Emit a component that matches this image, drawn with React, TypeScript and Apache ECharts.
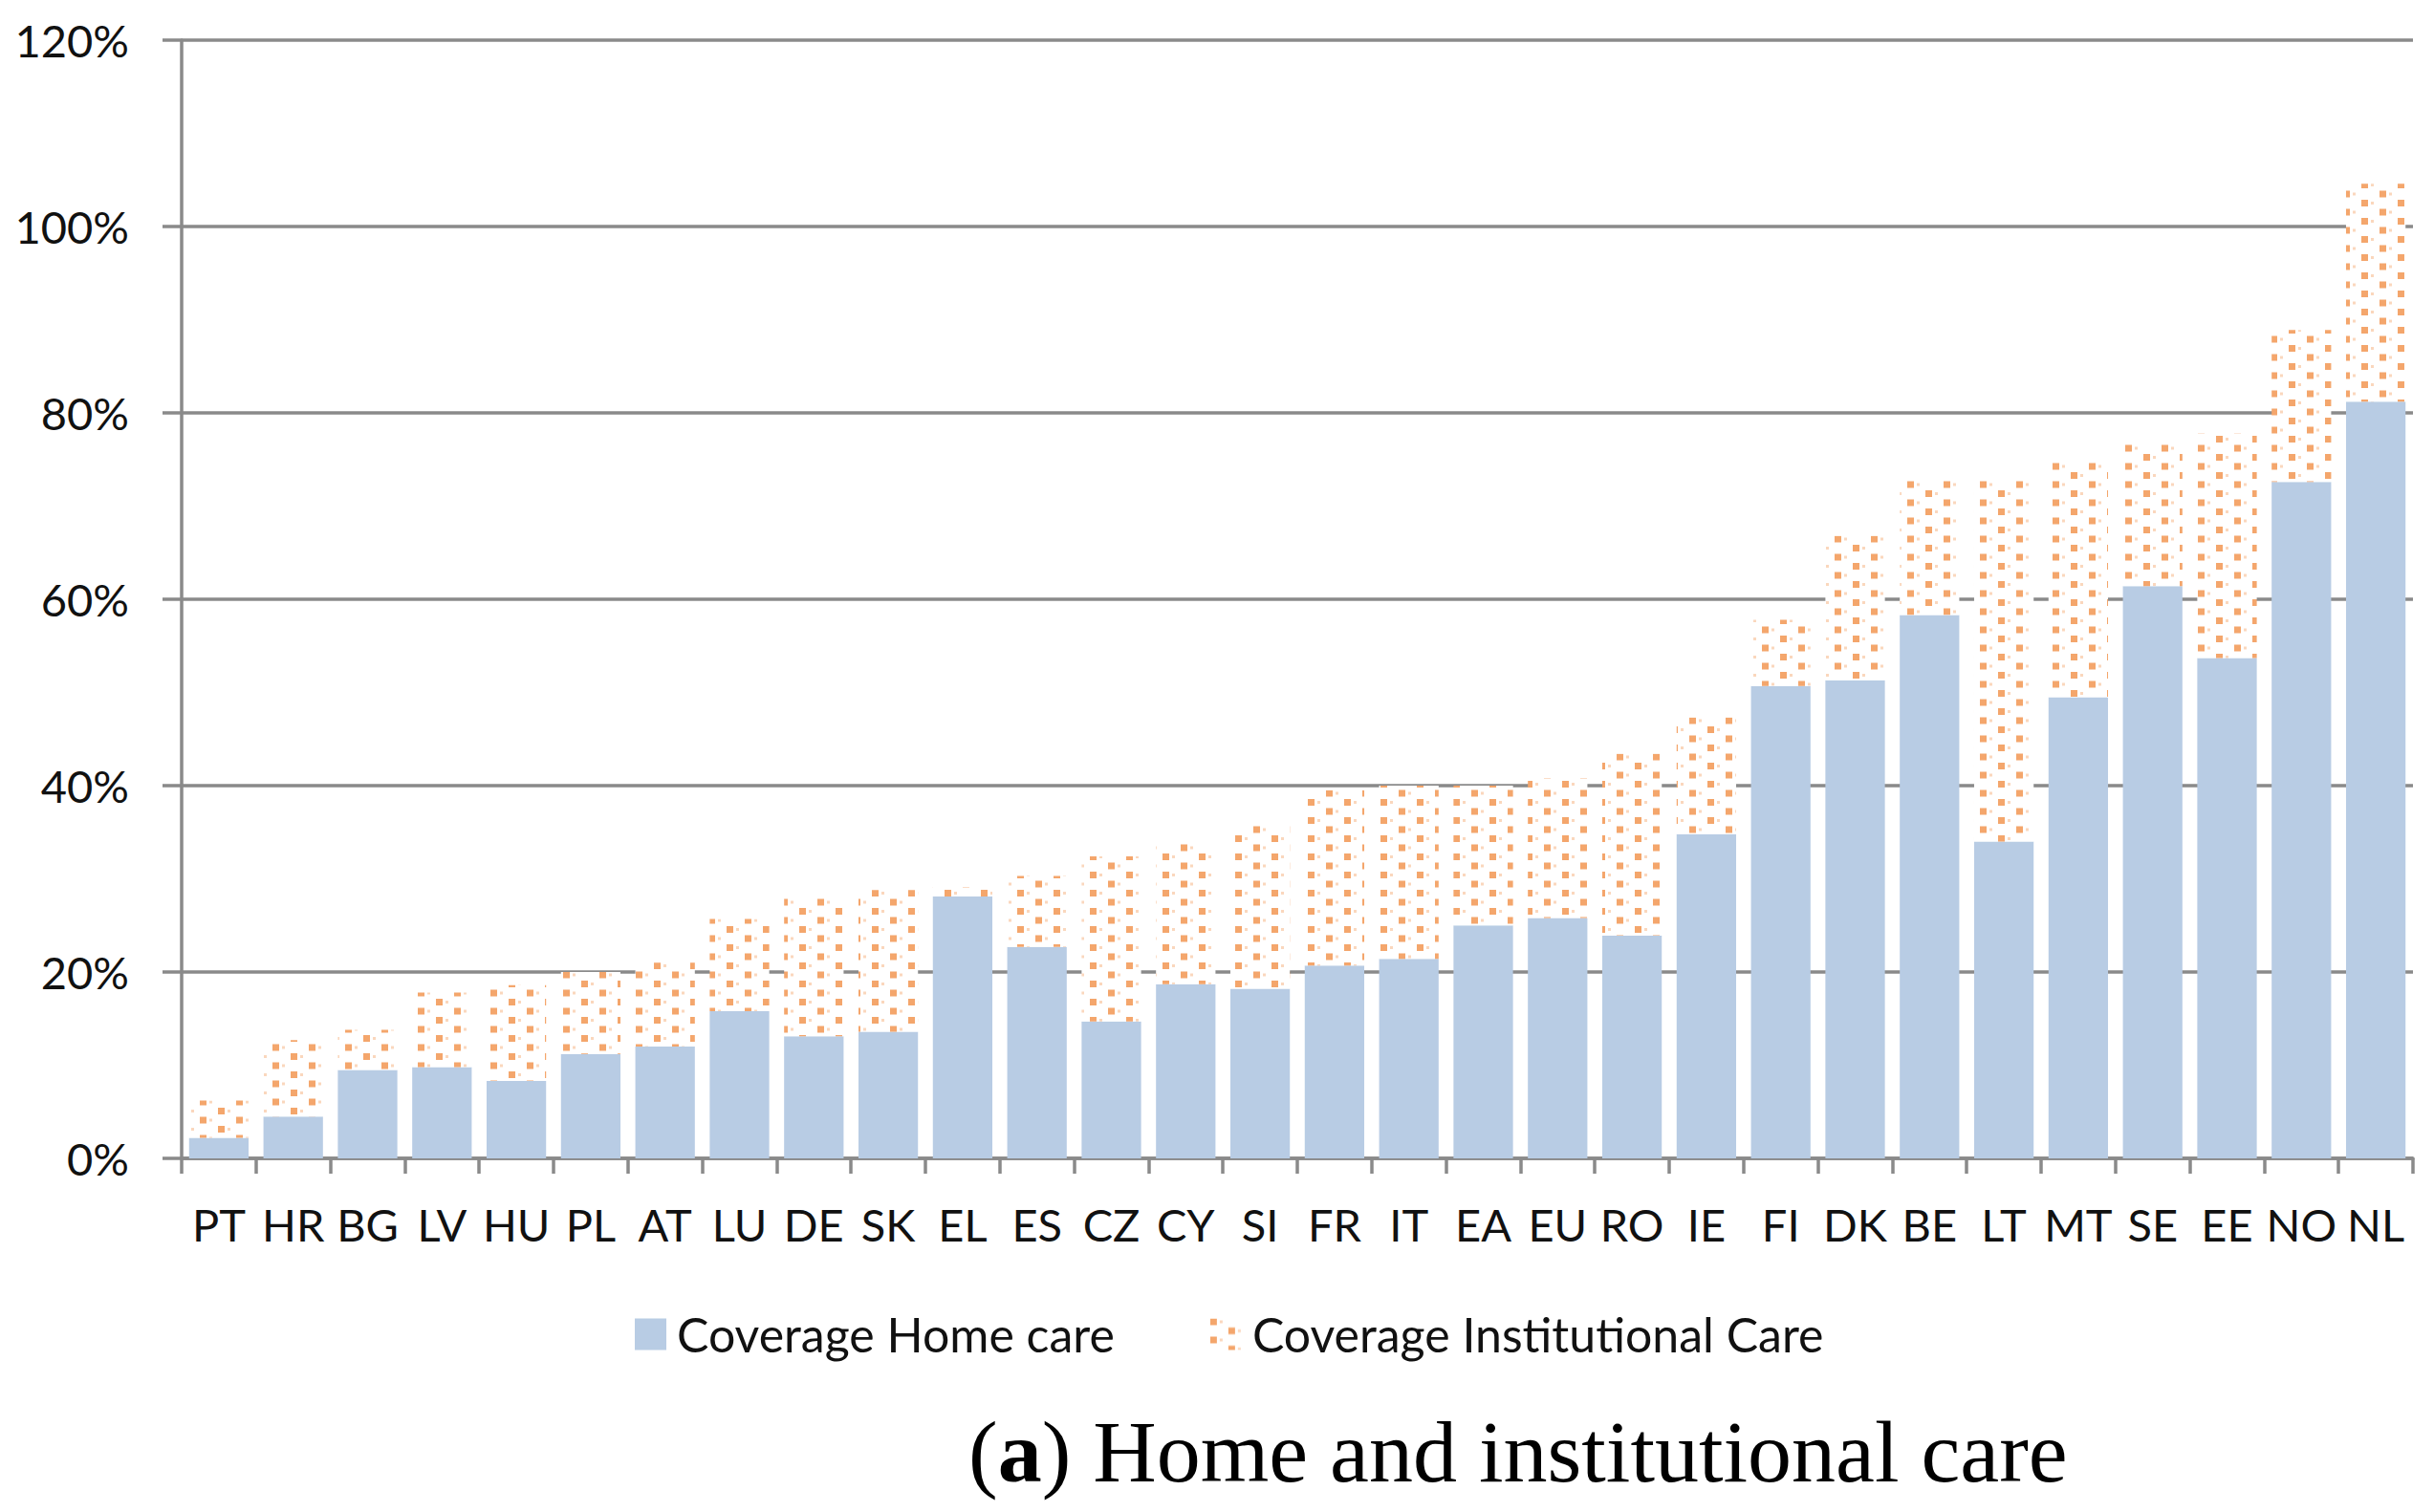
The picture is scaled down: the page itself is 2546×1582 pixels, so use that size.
import React, { useEffect, useRef } from "react";
import * as echarts from "echarts";

const categories = ["PT","HR","BG","LV","HU","PL","AT","LU","DE","SK","EL","ES","CZ","CY","SI","FR","IT","EA","EU","RO","IE","FI","DK","BE","LT","MT","SE","EE","NO","NL"];
const homeCare = [2.2,4.5,9.5,9.8,8.3,11.2,12.0,15.8,13.1,13.6,28.1,22.7,14.7,18.7,18.2,20.7,21.4,25.0,25.8,23.9,34.8,50.7,51.3,58.3,34.0,49.5,61.4,53.7,72.6,81.2];
const institutionalCare = [4.0,8.2,4.3,8.0,10.3,8.8,9.0,9.9,14.9,15.2,1.0,7.6,17.7,15.1,17.6,18.8,18.6,15.0,15.0,19.5,12.5,7.1,15.5,14.5,38.8,25.2,15.4,24.1,16.3,23.4];
const seriesNames = ["Coverage Home care", "Coverage Institutional Care"];
const yMin = 0;
const yMax = 120;
const yInterval = 20;

function makePattern(): HTMLCanvasElement {
  const c = document.createElement("canvas");
  c.width = 38;
  c.height = 19;
  const ctx = c.getContext("2d")!;
  ctx.fillStyle = "#ffffff";
  ctx.fillRect(0, 0, 38, 19);
  ctx.fillStyle = "#F4A66C";
  ctx.fillRect(0, 0, 7, 7);
  ctx.fillRect(19, 9.5, 7, 7);
  ctx.fillStyle = "rgba(244,166,108,0.45)";
  ctx.fillRect(10, 2, 3, 3);
  ctx.fillRect(29, 11.5, 3, 3);
  return c;
}

export default function App() {
  const ref = useRef<HTMLDivElement>(null);
  useEffect(() => {
    if (!ref.current) return;
    const chart = echarts.init(ref.current, null, { renderer: "svg" });
    const pattern = makePattern();
    const grey = "#8A8A8A";
    const font = "Lato";
    chart.setOption({
      animation: false,
      backgroundColor: "#ffffff",
      grid: { left: 190, right: 22, top: 42, bottom: 370, containLabel: false },
      legend: {
        data: seriesNames,
        left: 664,
        top: 1371,
        padding: 0,
        icon: "rect",
        itemWidth: 33,
        itemHeight: 33,
        itemGap: 100,
        textStyle: { fontFamily: font, fontSize: 50, color: "#111", padding: [0, 0, 0, 6] },
      },
      xAxis: {
        type: "category",
        data: categories,
        boundaryGap: true,
        axisLine: { lineStyle: { color: grey, width: 3.5 } },
        axisTick: { show: true, length: 16, alignWithLabel: false, lineStyle: { color: grey, width: 3.5 } },
        axisLabel: { fontFamily: font, fontSize: 47, color: "#111", margin: 45, interval: 0 },
      },
      yAxis: {
        type: "value",
        min: yMin,
        max: yMax,
        interval: yInterval,
        axisLine: { show: true, lineStyle: { color: grey, width: 3.5 } },
        axisTick: { show: true, length: 20, lineStyle: { color: grey, width: 3.5 } },
        axisLabel: { fontFamily: font, fontSize: 47, color: "#111", margin: 55, formatter: "{value}%" },
        splitLine: { show: true, lineStyle: { color: grey, width: 3.5 } },
      },
      series: [
        {
          name: seriesNames[0],
          type: "bar",
          stack: "total",
          data: homeCare,
          barCategoryGap: "20%",
          itemStyle: { color: "#B8CCE4" },
        },
        {
          name: seriesNames[1],
          type: "bar",
          stack: "total",
          data: institutionalCare,
          barCategoryGap: "20%",
          itemStyle: { color: { image: pattern, repeat: "repeat" } },
        },
      ],
      graphic: [
        {
          type: "text",
          left: 1013,
          top: 1473,
          style: {
            text: "{p|(}{b|a}{p|) Home and institutional care}",
            rich: {
              p: { fontFamily: "Liberation Serif", fontSize: 92, fill: "#000" },
              b: { fontFamily: "Liberation Serif", fontSize: 92, fontWeight: "bold", fill: "#000" },
            },
          },
        },
      ],
    });
    return () => chart.dispose();
  }, []);
  return <div ref={ref} style={{ position: "absolute", left: 0, top: 0, width: 2546, height: 1582 }} />;
}
